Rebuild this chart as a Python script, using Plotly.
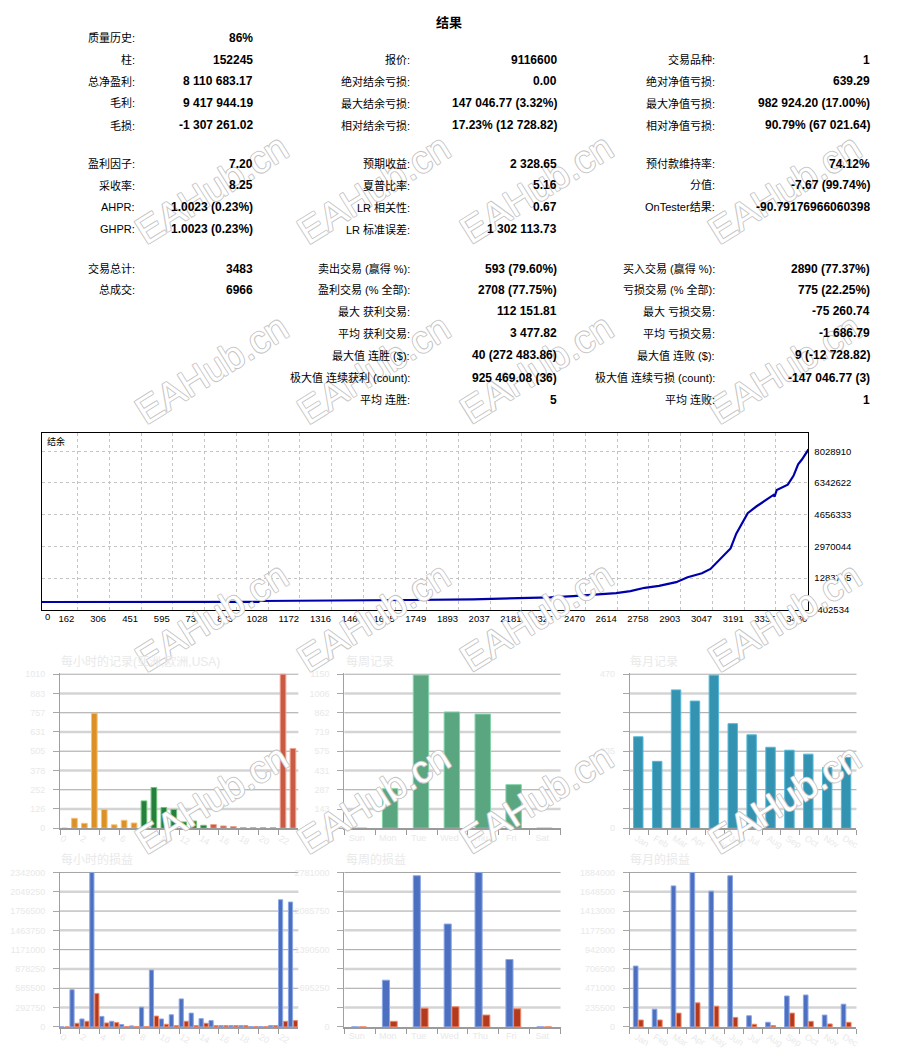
import plotly.graph_objects as go

# page has an 8px body margin, so the figure is placed at (8, 8)
PAGE_W, PAGE_H = 902, 1060
OFF = 8
W, H = PAGE_W - 2 * OFF, PAGE_H - 2 * OFF
FONT = "Liberation Sans, Noto Sans CJK SC, sans-serif"
FAINT = "#e9e9e9"

# ---------- 结果 table ----------
report_title = "结果"
col1_labels = ["质量历史:", "柱:", "总净盈利:", "毛利:", "毛损:",
               "盈利因子:", "采收率:", "AHPR:", "GHPR:",
               "交易总计:", "总成交:", "", "", "", "", ""]
col1_values = ["86%", "152245", "8 110 683.17", "9 417 944.19", "-1 307 261.02",
               "7.20", "8.25", "1.0023 (0.23%)", "1.0023 (0.23%)",
               "3483", "6966", "", "", "", "", ""]
col2_labels = ["", "报价:", "绝对结余亏损:", "最大结余亏损:", "相对结余亏损:",
               "预期收益:", "夏普比率:", "LR 相关性:", "LR 标准误差:",
               "卖出交易 (赢得 %):", "盈利交易 (% 全部):", "最大 获利交易:", "平均 获利交易:",
               "最大值 连胜 ($):", "极大值 连续获利 (count):", "平均 连胜:"]
col2_values = ["", "9116600", "0.00", "147 046.77 (3.32%)", "17.23% (12 728.82)",
               "2 328.65", "5.16", "0.67", "1 302 113.73",
               "593 (79.60%)", "2708 (77.75%)", "112 151.81", "3 477.82",
               "40 (272 483.86)", "925 469.08 (36)", "5"]
col3_labels = ["", "交易品种:", "绝对净值亏损:", "最大净值亏损:", "相对净值亏损:",
               "预付款维持率:", "分值:", "OnTester结果:", "",
               "买入交易 (赢得 %):", "亏损交易 (% 全部):", "最大 亏损交易:", "平均 亏损交易:",
               "最大值 连败 ($):", "极大值 连续亏损 (count):", "平均 连败:"]
col3_values = ["", "1", "639.29", "982 924.20 (17.00%)", "90.79% (67 021.64)",
               "74.12%", "-7.67 (99.74%)", "-90.79176966060398", "",
               "2890 (77.37%)", "775 (22.25%)", "-75 260.74", "-1 686.79",
               "9 (-12 728.82)", "-147 046.77 (3)", "1"]

# ---------- balance curve ----------
trade_index = [0, 984, 990, 1660, 1668, 1959, 2141, 2310, 2414, 2518, 2609, 2674,
               2739, 2804, 2882, 2934, 2999, 3038, 3077, 3103, 3129, 3155, 3181,
               3207, 3246, 3298, 3324, 3329, 3339, 3389, 3415, 3436, 3454, 3483]
balance = [10000, 12000, 62800, 80400, 115500, 150600, 203300, 256000, 326300,
           414100, 484400, 589800, 765400, 870800, 1064000, 1327500, 1538300,
           1766600, 2240900, 2504400, 2855700, 3646100, 4173100, 4735200,
           5086500, 5490500, 5701300, 5613500, 5964800, 6245800, 6720100,
           7334900, 7598400, 8120683]
trade_ticks = [0, 162, 306, 451, 595, 739, 883, 1028, 1172, 1316, 1460, 1605, 1749,
               1893, 2037, 2181, 2326, 2470, 2614, 2758, 2903, 3047, 3191, 3335, 3480]
balance_ticks = [8028910, 6342622, 4656333, 2970044, 1283755, -402534]
balance_top = 8977440

# ---------- distribution charts ----------
hours = [str(h) for h in range(24)]
weekdays = ["Sun", "Mon", "Tue", "Wed", "Thu", "Fri", "Sat"]
months = ["Jan", "Feb", "Mar", "Apr", "May", "Jun",
          "Jul", "Aug", "Sep", "Oct", "Nov", "Dec"]

hourly_trades = [0, 65, 32, 754, 123, 22, 52, 34, 179, 267, 136, 123,
                 41, 47, 19, 24, 15, 11, 4, 4, 4, 4, 1010, 523]
weekly_trades = [0, 295, 1143, 868, 852, 325, 0]
monthly_trades = [279, 204, 422, 388, 467, 319, 285, 247, 238, 226, 185, 216]

hourly_profit = [0, 563000, 120000, 2342000, 159000, 85000, 35000, 15000, 299000,
                 862000, 120000, 184000, 424000, 209000, 125000, 95000, 20000,
                 20000, 20000, 5000, 5000, 20000, 1928000, 1893000]
hourly_loss = [0, 55000, 85000, 508000, 60000, 65000, 5000, 5000, 5000, 164000,
               40000, 20000, 85000, 20000, 55000, 20000, 20000, 20000, 20000,
               5000, 5000, 20000, 85000, 95000]
weekly_profit = [0, 840200, 2721900, 1852000, 2781000, 1213000, 0]
weekly_loss = [0, 100600, 337300, 361000, 213000, 325400, 0]
monthly_profit = [742000, 216000, 1720000, 1884000, 1656000, 1844000,
                  136000, 56000, 377000, 389000, 144000, 277000]
monthly_loss = [84000, 84000, 168000, 293000, 253000, 116000,
                32000, 16000, 168000, 68000, 36000, 56000]

hourly_trade_ticks = [0, 126, 252, 378, 505, 631, 757, 883, 1010]
weekly_trade_ticks = [0, 143, 287, 431, 575, 719, 862, 1006, 1150]
monthly_trade_ticks = [0, 58.75, 117.5, 176.25, 235, 293.75, 352.5, 411.25, 470]
monthly_trade_text = ["0", "", "", "", "235", "", "", "", "470"]
hourly_pl_ticks = [0, 292750, 585500, 878250, 1171000, 1463750, 1756500, 2049250, 2342000]
weekly_pl_ticks = [0, 347625, 695250, 1042875, 1390500, 1738125, 2085750, 2433375, 2781000]
weekly_pl_text = ["0", "", "695250", "", "1390500", "", "2085750", "", "2781000"]
monthly_pl_ticks = [0, 235500, 471000, 706500, 942000, 1177500, 1413000, 1648500, 1884000]

chart_titles = ["每小时的记录(亚洲,欧洲,USA)", "每周记录", "每月记录",
                "每小时的损益", "每周的损益", "每月的损益"]
watermark = "EAHub.cn"


def px(x):
    return (x - OFF) / W


def py(y):
    return 1 - (y - OFF) / H


fig = go.Figure()

# balance line
fig.add_trace(go.Scatter(x=trade_index, y=balance, mode="lines",
                         line=dict(color="#0000aa", width=2.2),
                         xaxis="x", yaxis="y", showlegend=False))

# bar chart boxes (page pixels)
cols_px = [(59.3, 299.0), (345.3, 562.7), (632.3, 860.3)]
rows_px = [(675.0, 831.3), (875.0, 1031.7)]

hour_fill = ["#dc9128"] * 8 + ["#24803a"] * 7 + ["#c95a44"] * 9
hour_edge = ["#f5c272"] * 8 + ["#6cc47a"] * 7 + ["#f0a290"] * 9
BLUE, BLUE_EDGE = "#4d6fbf", "#8aa6e6"
RED, RED_EDGE = "#b43a1e", "#f08a6a"

charts = [
    # categories, ticks, ticktext, xrange, traces [(values, fill, edge, offset, width)]
    (hours, hourly_trade_ticks, None, [-0.5, 23.5],
     [(hourly_trades, hour_fill, hour_edge, -0.33, 0.57)]),
    (weekdays, weekly_trade_ticks, None, [-0.5, 6.5],
     [(weekly_trades, "#5aa680", "#82d4a8", -0.27, 0.5)]),
    (months, monthly_trade_ticks, monthly_trade_text, [-0.5, 11.5],
     [(monthly_trades, "#3593b2", "#55b8d8", -0.3, 0.5)]),
    (hours, hourly_pl_ticks, None, [-0.5, 23.5],
     [(hourly_profit, BLUE, BLUE_EDGE, -0.5, 0.42),
      (hourly_loss, RED, RED_EDGE, 0.0, 0.42)]),
    (weekdays, weekly_pl_ticks, weekly_pl_text, [-0.5, 6.5],
     [(weekly_profit, BLUE, BLUE_EDGE, -0.27, 0.23),
      (weekly_loss, RED, RED_EDGE, -0.02, 0.23)]),
    (months, monthly_pl_ticks, None, [-0.5, 11.5],
     [(monthly_profit, BLUE, BLUE_EDGE, -0.31, 0.245),
      (monthly_loss, RED, RED_EDGE, -0.03, 0.245)]),
]

layout_axes = {}
shapes = []
annotations = []

# watermark tiles first, so the report text sits on top of them
outline = ("-0.8px -0.8px 0 #c6c6c6, 0.8px -0.8px 0 #c6c6c6, "
           "-0.8px 0.8px 0 #c6c6c6, 0.8px 0.8px 0 #c6c6c6")
for wy in [120, 368, 618, 868]:
    for wx in [125, 375, 625, 875]:
        annotations.append(dict(text=watermark, x=px(wx), y=py(wy), xref="paper",
                                yref="paper", showarrow=False, textangle=-32,
                                font=dict(size=38, color="#ffffff",
                                          family="Liberation Sans", shadow=outline)))

for i, (cats, ticks, ticktext, xr, traces) in enumerate(charts):
    n = i + 2
    cx = cols_px[i % 3]
    cy = rows_px[i // 3]
    for vals, fill, edge, off, wid in traces:
        fig.add_trace(go.Bar(x=cats, y=vals, xaxis="x%d" % n, yaxis="y%d" % n,
                             marker=dict(color=fill, line=dict(color=edge, width=1)),
                             offset=off, width=wid, showlegend=False))
    top = ticks[-1]
    layout_axes["xaxis%d" % n] = dict(
        domain=[px(cx[0]), px(cx[1])], anchor="y%d" % n, type="category",
        categoryorder="array", categoryarray=cats, range=xr,
        showline=True, linecolor="#9a9a9a", linewidth=1.5,
        ticks="outside", tickson="boundaries", ticklen=5, tickcolor="#9a9a9a",
        tickfont=dict(size=9, color=FAINT), showgrid=False, zeroline=False,
        ticklabelshift=-3)
    layout_axes["yaxis%d" % n] = dict(
        domain=[py(cy[1]), py(cy[0])], anchor="x%d" % n, range=[0, top * 1.006],
        tickmode="array", tickvals=ticks,
        ticktext=ticktext if ticktext else [str(t) for t in ticks],
        showline=True, linecolor="#a0a0a0", linewidth=1,
        ticks="outside", ticklen=6, tickcolor="#a8a8a8",
        tickfont=dict(size=9, color=FAINT), showgrid=False, zeroline=False,
        ticklabelstandoff=6)
    for k, t in enumerate(ticks[1:], start=1):
        dark = k % 2 == 0
        shapes.append(dict(type="line", xref="x%d domain" % n, yref="y%d" % n,
                           x0=0, x1=1, y0=t, y1=t, layer="below",
                           line=dict(color="#a3a3a3" if dark else "#d4d4d4",
                                     width=1 if dark else 2.5)))
    title_y = 663 if i < 3 else 863
    title_x = [58, 345, 631][i % 3]
    annotations.append(dict(text=chart_titles[i], x=px(title_x), y=py(title_y),
                            xref="paper", yref="paper", xanchor="left",
                            yanchor="middle", showarrow=False,
                            font=dict(size=12, color=FAINT)))

# table text
row_y = [34, 56, 78, 100, 122, 161, 183, 205, 227, 267, 288, 310, 332, 354, 377, 399]
label_right = [137, 413, 720]
value_right = [255, 561, 876]
columns = [(col1_labels, col1_values), (col2_labels, col2_values), (col3_labels, col3_values)]
annotations.append(dict(text="<b>%s</b>" % report_title, x=px(450), y=py(9),
                        xref="paper", yref="paper", xanchor="center", yanchor="top",
                        showarrow=False, font=dict(size=13, color="#000")))
for c, (labels, values) in enumerate(columns):
    for r, (lab, val) in enumerate(zip(labels, values)):
        if lab:
            annotations.append(dict(text=lab, x=px(label_right[c]), y=py(row_y[r]),
                                    xref="paper", yref="paper", xanchor="right",
                                    yanchor="middle", showarrow=False,
                                    font=dict(size=11, color="#000")))
        if val:
            annotations.append(dict(text="<b>%s</b>" % val, x=px(value_right[c]),
                                    y=py(row_y[r]), xref="paper", yref="paper",
                                    xanchor="right", yanchor="middle", showarrow=False,
                                    font=dict(size=12, color="#000")))

# balance chart labels
annotations.append(dict(text="结余", x=px(44), y=py(441), xref="paper", yref="paper",
                        xanchor="left", yanchor="middle", showarrow=False,
                        font=dict(size=9, color="#000")))
annotations.append(dict(text=str(trade_ticks[0]), x=trade_ticks[0], y=py(618),
                        xref="x", yref="paper", xanchor="left", yanchor="middle",
                        xshift=1, showarrow=False, font=dict(size=9.5, color="#000")))

fig.update_layout(
    width=W, height=H, autosize=False,
    margin=dict(l=0, r=0, t=0, b=0),
    paper_bgcolor="white", plot_bgcolor="white",
    font=dict(family=FONT, color="#000"),
    barmode="overlay",
    xaxis=dict(domain=[px(41), px(812)], anchor="y", range=[0, 3483],
               tickmode="array", tickvals=trade_ticks[1:],
               showgrid=True, gridcolor="#c4c4c4", griddash="3px,3px",
               showline=True, mirror=True, linecolor="#000", linewidth=1,
               ticks="", tickfont=dict(size=9.5, color="#000"),
               ticklabelshift=-11, zeroline=False),
    yaxis=dict(domain=[py(611), py(433)], anchor="x", side="right",
               range=[balance_ticks[-1] - 2000, balance_top],
               tickmode="array", tickvals=balance_ticks,
               ticktext=[str(v) for v in balance_ticks],
               showgrid=True, gridcolor="#c4c4c4", griddash="3px,3px",
               showline=True, mirror=True, linecolor="#000", linewidth=1,
               ticks="", tickfont=dict(size=9.5, color="#000"),
               ticklabelstandoff=3, zeroline=False),
    shapes=shapes,
    annotations=annotations,
    **layout_axes,
)

fig.write_html("out.html")
